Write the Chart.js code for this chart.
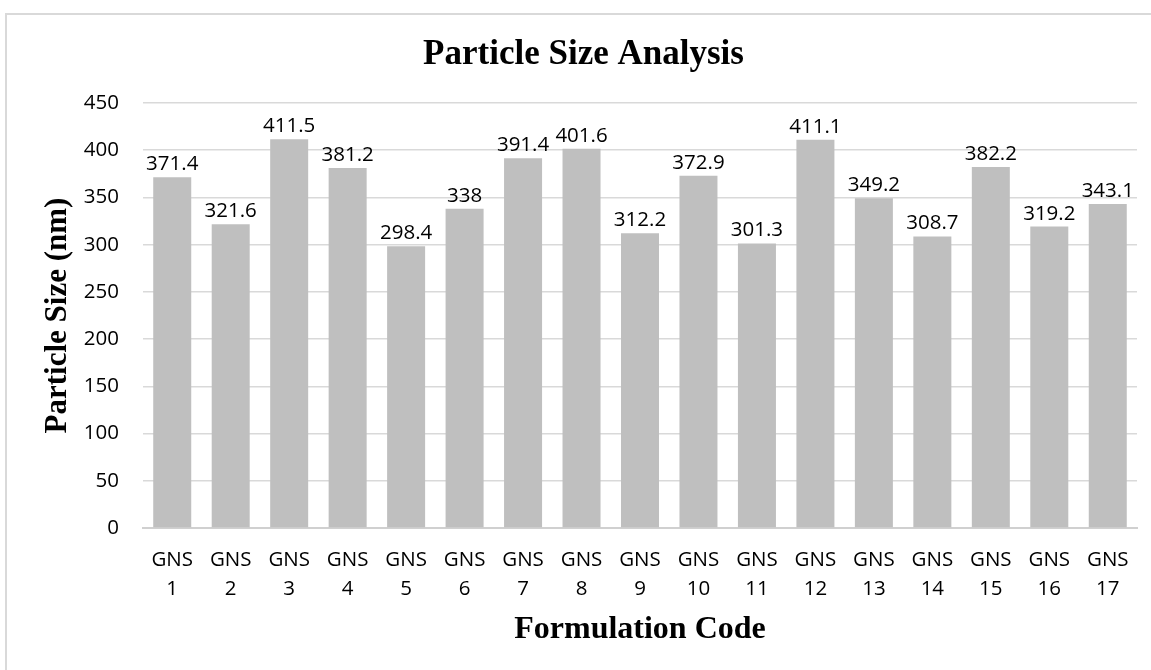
<!DOCTYPE html>
<html>
<head>
<meta charset="utf-8">
<title>Particle Size Analysis</title>
<script src="https://cdn.jsdelivr.net/npm/chart.js@4/dist/chart.umd.min.js"></script>
<style>
  html, body { margin: 0; padding: 0; background: #fff; }
  #frame {
    position: absolute; left: 5px; top: 13px; right: 0; bottom: 0;
    border-left: 2px solid #d9d9d9; border-top: 2px solid #d9d9d9;
  }
  #wrap { position: absolute; left: 0; top: 0; width: 1151px; height: 670px; }
</style>
</head>
<body>
<div id="frame"></div>
<div id="wrap"><canvas id="chartParticle"></canvas></div>
<script>
// formulation codes and measured particle size (nm)
const codes = ['GNS 1', 'GNS 2', 'GNS 3', 'GNS 4', 'GNS 5', 'GNS 6', 'GNS 7', 'GNS 8', 'GNS 9',
               'GNS 10', 'GNS 11', 'GNS 12', 'GNS 13', 'GNS 14', 'GNS 15', 'GNS 16', 'GNS 17'];
const sizes = [371.4, 321.6, 411.5, 381.2, 298.4, 338, 391.4, 401.6, 312.2,
               372.9, 301.3, 411.1, 349.2, 308.7, 382.2, 319.2, 343.1];
const yMin = 0;
const yMax = 450;
const yStep = 50;

const tickFont = { family: '"Open Sans", sans-serif', size: 20.5, lineHeight: 1.4 };
const serifBold = (size) => ({ family: '"Liberation Serif", "Times New Roman", serif', size, weight: 'bold' });

// value labels above each bar
const barLabels = {
    id: 'barLabels',
    afterDatasetsDraw(chart) {
        const ctx = chart.ctx;
        const meta = chart.getDatasetMeta(0);
        ctx.save();
        ctx.font = '20.5px "Open Sans", sans-serif';
        ctx.fillStyle = '#000';
        ctx.textAlign = 'center';
        ctx.textBaseline = 'alphabetic';
        meta.data.forEach((bar, i) => {
            ctx.fillText(String(sizes[i]), bar.x, bar.y - 7);
        });
        ctx.restore();
    },
};

const ctx = document.getElementById('chartParticle').getContext('2d');
new Chart(ctx, {
    type: 'bar',
    data: {
        labels: codes.map(c => c.split(' ')),
        datasets: [{
            data: sizes,
            backgroundColor: '#bfbfbf',
            borderWidth: 0,
            barPercentage: 0.65,
            categoryPercentage: 1,
        }],
    },
    options: {
        responsive: true,
        maintainAspectRatio: false,
        animation: false,
        layout: { padding: { left: 30, right: 14, top: 0, bottom: 0 } },
        plugins: {
            legend: { display: false },
            tooltip: { enabled: false },
            title: {
                display: true,
                text: 'Particle Size Analysis',
                color: '#000',
                font: serifBold(35),
                padding: { top: 34, bottom: 27 },
            },
        },
        scales: {
            x: {
                grid: { display: false, drawTicks: false },
                border: { color: '#d0d0d0', width: 2 },
                ticks: { color: '#000', font: tickFont, padding: 18, maxRotation: 0, autoSkip: false },
                title: {
                    display: true,
                    text: 'Formulation Code',
                    color: '#000',
                    font: serifBold(32),
                    padding: { top: 0, bottom: 21 },
                },
                afterFit(scale) { scale.height = 142; },
            },
            y: {
                min: yMin,
                max: yMax,
                grid: { color: '#d9d9d9', lineWidth: 1.5, drawTicks: false },
                border: { display: false },
                ticks: { stepSize: yStep, color: '#000', font: tickFont, padding: 24 },
                title: {
                    display: true,
                    text: 'Particle Size (nm)',
                    color: '#000',
                    font: serifBold(31),
                    padding: { top: 9, bottom: 0 },
                },
                afterFit(scale) { scale.width = 113; },
            },
        },
    },
    plugins: [barLabels],
});
</script>
</body>
</html>
